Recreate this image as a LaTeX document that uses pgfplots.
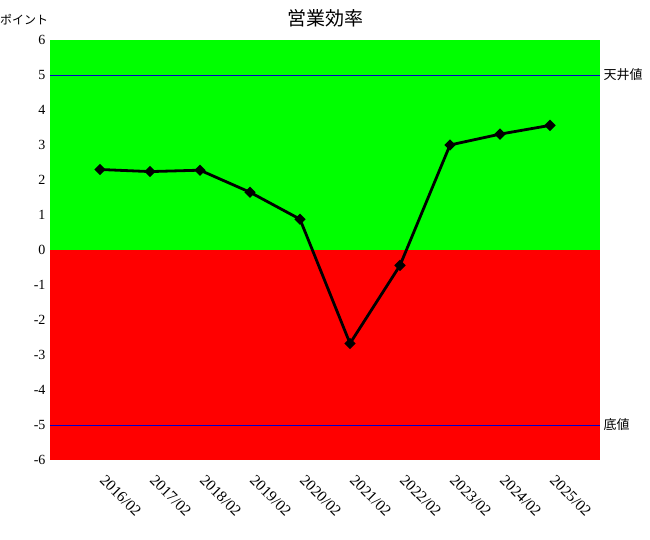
\documentclass[border=0pt]{standalone}
\usepackage{pgfplots}
\pgfplotsset{compat=1.18}
\usepackage{fontspec}
\setmainfont{Liberation Serif}
\newfontfamily\jp{Noto Sans CJK JP}

\begin{document}
\begin{tikzpicture}
\path[use as bounding box] (-50pt,-80pt) rectangle (600pt,460pt);
\begin{axis}[
    at={(0,0)}, anchor=south west,
    scale only axis,
    width=550pt, height=420pt,
    xmin=-1, xmax=10,
    ymin=-6, ymax=6,
    xtick={0,...,9},
    xticklabels={2016/02,2017/02,2018/02,2019/02,2020/02,2021/02,2022/02,2023/02,2024/02,2025/02},
    ytick={-6,-5,...,6},
    axis line style={draw=none},
    tick style={draw=none},
    yticklabel style={font=\fontsize{14}{16}\selectfont, xshift=-1pt},
    /pgf/number format/assume math mode=true,
    xticklabel style={font=\fontsize{15.5}{17}\selectfont, rotate=-45, anchor=north west, xshift=11pt, yshift=-2pt},
    clip=false,
]
% background bands
\addplot[fill={rgb,255:red,0;green,255;blue,0}, draw=none] coordinates {(-1,6)(10,6)} \closedcycle;
\addplot[fill={rgb,255:red,255;green,0;blue,0}, draw=none] coordinates {(-1,-6)(10,-6)} \closedcycle;
% ceiling / floor lines
\addplot[blue!80!black, line width=0.6pt] coordinates {(-1,5)(10,5)};
\addplot[blue!80!black, line width=0.6pt] coordinates {(-1,-5)(10,-5)};
% data
\addplot[black, line width=2.8pt, mark=square*, mark size=2.6pt, mark options={rotate=45}] coordinates {
(0,2.30)(1,2.24)(2,2.28)(3,1.65)(4,0.88)(5,-2.67)(6,-0.44)(7,3.00)(8,3.31)(9,3.56)
};
\node[anchor=west, font=\jp\fontsize{13}{15}\selectfont] at (axis cs:10,5) {天井値};
\node[anchor=west, font=\jp\fontsize{13}{15}\selectfont] at (axis cs:10,-5) {底値};
\end{axis}
\node[font=\jp\fontsize{19}{21}\selectfont] at (275pt,442pt) {営業効率};
\node[anchor=west, inner sep=0pt, font=\jp\fontsize{12}{14}\selectfont] at (-50pt,440pt) {ポイント};
\end{tikzpicture}
\end{document}
